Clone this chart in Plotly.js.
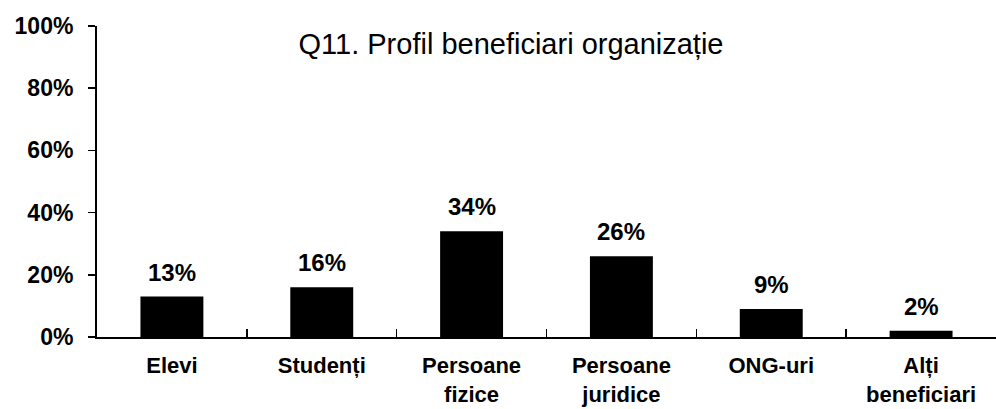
<!DOCTYPE html>
<html>
<head>
<meta charset="utf-8">
<script src="https://cdn.plot.ly/plotly-3.0.1.min.js"></script>
<style>html,body{margin:0;padding:0;background:#fff;}</style>
</head>
<body>
<div id="chart" style="width:996px;height:409px;"></div>
<script>
const categories = ["Elevi", "Studenți", "Persoane<br>fizice", "Persoane<br>juridice", "ONG-uri", "Alți<br>beneficiari"];
const values = [0.13, 0.16, 0.34, 0.26, 0.09, 0.02];
const valueLabels = ["13%", "16%", "34%", "26%", "9%", "2%"];
const yTickVals = [0, 0.2, 0.4, 0.6, 0.8, 1.0];
const yTickText = ["0%", "20%", "40%", "60%", "80%", "100%"];
const chartTitle = "Q11. Profil beneficiari organizație";

const FONT = "Arial, 'Liberation Sans', sans-serif";

const trace = {
  type: "bar",
  x: categories,
  y: values,
  width: 0.42,
  marker: {color: "#000000", line: {width: 0}},
  hoverinfo: "none"
};

const annotations = categories.map((c, i) => ({
  x: c, y: values[i], xref: "x", yref: "y",
  text: "<b>" + valueLabels[i] + "</b>",
  showarrow: false, yanchor: "bottom", xanchor: "center",
  yshift: 9,
  font: {family: FONT, size: 24, color: "#000"}
}));

const layout = {
  width: 996, height: 409, autosize: false,
  margin: {l: 97, r: 0, t: 26, b: 72, pad: 0},
  paper_bgcolor: "#fff", plot_bgcolor: "#fff",
  showlegend: false,
  title: {
    text: chartTitle,
    font: {family: FONT, size: 29, color: "#000"},
    x: 511/996, xref: "container", xanchor: "center",
    y: 1 - 44/409, yref: "container", yanchor: "middle"
  },
  xaxis: {
    type: "category",
    range: [-0.5, 5.5],
    showline: true, linecolor: "#000", linewidth: 2,
    ticks: "inside", tickson: "boundaries", ticklen: 8, tickwidth: 1.5, tickcolor: "#000",
    tickvals: categories,
    ticktext: categories.map(c => "<b>" + c + "</b>"),
    tickfont: {family: FONT, size: 22, color: "#000"},
    ticklabelstandoff: 8,
    showgrid: false, zeroline: false, fixedrange: true
  },
  yaxis: {
    range: [0, 1],
    tickvals: yTickVals,
    ticktext: yTickText.map(t => "<b>" + t + "</b>"),
    showline: true, linecolor: "#000", linewidth: 2,
    ticks: "outside", ticklen: 7, tickwidth: 1.5, tickcolor: "#000",
    tickfont: {family: FONT, size: 23, color: "#000"},
    ticklabelstandoff: 10,
    showgrid: false, zeroline: false, fixedrange: true
  },
  annotations: annotations
};

Plotly.newPlot("chart", [trace], layout, {displayModeBar: false, staticPlot: true});
</script>
</body>
</html>
